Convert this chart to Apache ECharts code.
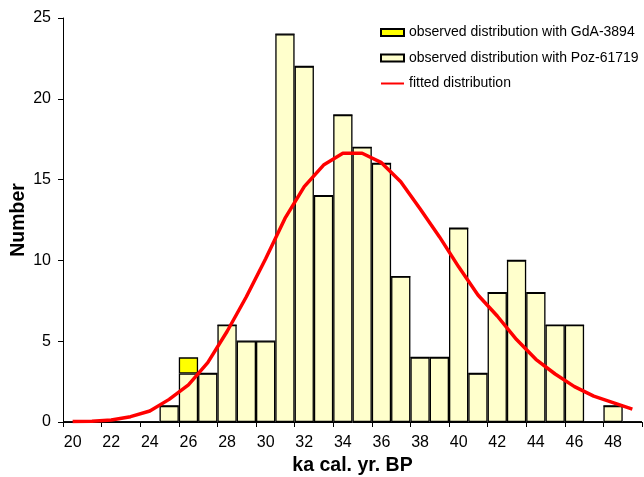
<!DOCTYPE html>
<html>
<head>
<meta charset="utf-8">
<script src="https://cdn.jsdelivr.net/npm/echarts@6/dist/echarts.min.js"></script>
<style>html,body{margin:0;padding:0;background:#fff}#c{width:644px;height:477px}</style>
</head>
<body>
<div id="c"></div>
<script>
var categories = ['20','21','22','23','24','25','26','27','28','29','30','31','32','33','34','35','36','37','38','39','40','41','42','43','44','45','46','47','48','49'];
var pozValues = [0,0,0,0,0,1,3,3,6,5,5,24,22,14,19,17,16,9,4,4,12,3,8,10,8,6,6,0,1,0];
var gdaValues = [0,0,0,0,0,0,1,0,0,0,0,0,0,0,0,0,0,0,0,0,0,0,0,0,0,0,0,0,0,0];
var fittedValues = [0.03,0.05,0.12,0.33,0.68,1.4,2.3,3.67,5.6,7.75,10.1,12.6,14.56,15.9,16.63,16.63,16.05,14.87,13.2,11.47,9.6,7.86,6.56,5.1,3.88,2.97,2.19,1.6,1.2,0.8];
var yTicks = [0,5,10,15,20,25];

var font = 'Liberation Sans, Arial, sans-serif';
var chart = echarts.init(document.getElementById('c'));
chart.setOption({
  animation: false,
  backgroundColor: '#fff',
  grid: {left: 63, right: 2, top: 18, bottom: 55, containLabel: false, outerBoundsMode: 'none'},
  legend: {
    orient: 'vertical', left: 375, top: 20,
    itemWidth: 23, itemHeight: 7, itemGap: 10.5,
    textStyle: {fontFamily: font, fontSize: 14, color: '#000', lineHeight: 15},
    data: [
      {name: 'observed distribution with GdA-3894', icon: 'rect'},
      {name: 'observed distribution with Poz-61719', icon: 'rect'},
      {name: 'fitted distribution', itemStyle: {opacity: 0}}
    ]
  },
  xAxis: {
    type: 'category', data: categories, boundaryGap: true,
    name: 'ka cal. yr. BP', nameLocation: 'middle', nameGap: 34, nameMoveOverlap: false,
    nameTextStyle: {fontFamily: font, fontSize: 19.5, fontWeight: 'bold', color: '#000'},
    axisLine: {lineStyle: {color: '#000', width: 1}},
    axisTick: {show: true, interval: 1, length: 5, lineStyle: {color: '#000'}},
    axisLabel: {interval: 1, fontFamily: font, fontSize: 16, color: '#000', margin: 13},
    splitLine: {show: false}
  },
  yAxis: {
    type: 'value', min: yTicks[0], max: yTicks[yTicks.length-1], interval: 5,
    name: 'Number', nameLocation: 'middle', nameGap: 34, nameMoveOverlap: false,
    nameTextStyle: {fontFamily: font, fontSize: 19.5, fontWeight: 'bold', color: '#000'},
    axisLine: {show: true, lineStyle: {color: '#000', width: 1}},
    axisTick: {show: true, length: 5, lineStyle: {color: '#000'}},
    axisLabel: {fontFamily: font, fontSize: 16, color: '#000', margin: 12},
    splitLine: {show: false}
  },
  series: [
    {
      name: 'observed distribution with Poz-61719', type: 'bar', stack: 'obs',
      data: pozValues, barCategoryGap: '0%', barGap: '0%',
      itemStyle: {color: '#FFFFCC', borderColor: '#000', borderWidth: 1.3}
    },
    {
      name: 'observed distribution with GdA-3894', type: 'bar', stack: 'obs',
      data: gdaValues, barCategoryGap: '0%',
      itemStyle: {color: '#FFFF00', borderColor: '#000', borderWidth: 1.3}
    },
    {
      name: 'fitted distribution', type: 'line', data: fittedValues,
      symbol: 'none', smooth: false,
      lineStyle: {color: '#FF0000', width: 3.5},
      itemStyle: {color: '#FF0000'}, z: 5
    }
  ]
});
</script>
</body>
</html>
